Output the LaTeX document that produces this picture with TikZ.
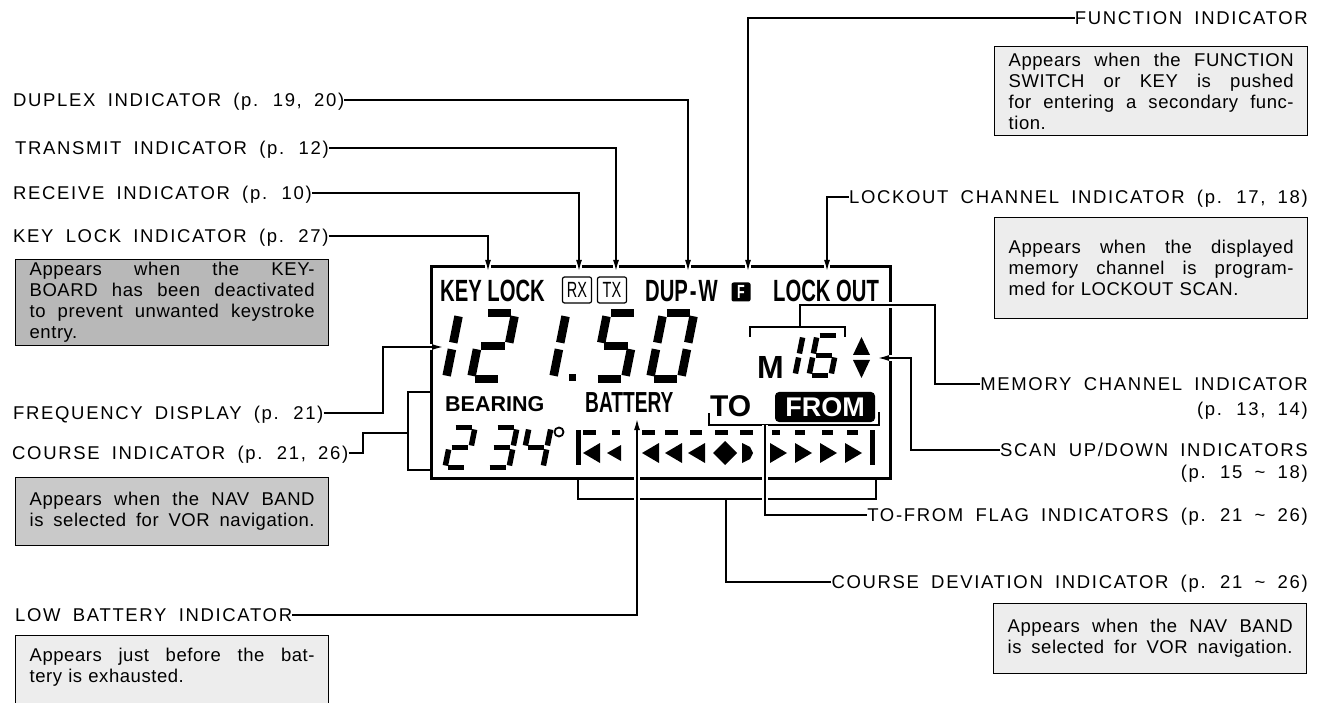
\documentclass[tikz,border=0pt]{standalone}
\usepackage{fontspec}
\setmainfont{Liberation Sans}
\newfontfamily\lblfont{Liberation Sans}[LetterSpace=9,WordSpace=1.8]
\newfontfamily\boxfont{Liberation Sans}[LetterSpace=3]
\newfontfamily\lcdfont{Liberation Sans}[FakeStretch=0.66]
\usetikzlibrary{arrows.meta,positioning}
\definecolor{boxdark}{gray}{0.72}
\definecolor{boxmid}{gray}{0.79}
\definecolor{boxlight}{gray}{0.93}

% seven segment pieces, unit cell 1 x 2
\tikzset{
  sa/.style={insert path={(0.12,2)--(0.88,2)}},
  sb/.style={insert path={(1,1.9)--(1,1.1)}},
  sc/.style={insert path={(1,0.9)--(1,0.1)}},
  sd/.style={insert path={(0.12,0)--(0.88,0)}},
  se/.style={insert path={(0,0.9)--(0,0.1)}},
  sf/.style={insert path={(0,1.9)--(0,1.1)}},
  sg/.style={insert path={(0.12,1)--(0.88,1)}}
}
% x, y (baseline), width, half height, thickness, segments
\newcommand{\lcddigit}[6]{%
  \begin{scope}[shift={(#1,#2)},x=#3pt,y=#4pt,xslant=0.2,line width=#5pt]
    \foreach \sg in {#6}{\edef\segcmd{\noexpand\draw[s\sg];}\segcmd}
  \end{scope}}
% one justified line of a note
\newcommand{\jline}[1]{\makebox[\hsize][s]{\spaceskip=0pt\relax#1}}

\begin{document}
\begin{tikzpicture}[x=1pt,y=-1pt,
  lbl/.style={font=\lblfont\fontsize{18.5}{21}\selectfont,inner sep=0pt,text height=13.3pt,text depth=0pt},
  note/.style={draw,line width=1.3pt,text width=285pt,inner xsep=14pt,inner ysep=0pt,align=left,
    font=\boxfont\fontsize{18.5}{21}\selectfont,anchor=north west},
  conn/.style={line width=1.4pt},
  hop/.style={preaction={draw=white,line width=6pt,-}},
  frame/.style={line width=3pt},
  lcd/.style={font=\lcdfont\bfseries\fontsize{30.7}{32}\selectfont,inner sep=0pt,anchor=base west},
  lcdbox/.style={draw,line width=1.2pt,rounded corners=2pt,minimum width=29pt,minimum height=26pt,
    inner sep=0pt,font=\lcdfont\fontsize{22}{22}\selectfont},
  >={Latex[length=11pt,width=6pt]}]
  \useasboundingbox (0,0) rectangle (1318,703);

  % left labels and notes
  \node[lbl,anchor=west] (lbl-dup) at (13,100) {DUPLEX INDICATOR (p. 19, 20)};
  \node[lbl,anchor=west] (lbl-tx) at (15,148) {TRANSMIT INDICATOR (p. 12)};
  \node[lbl,anchor=west] (lbl-rx) at (13,193) {RECEIVE INDICATOR (p. 10)};
  \node[lbl,anchor=west] (lbl-kl) at (13,236) {KEY LOCK INDICATOR (p. 27)};
  \node[note,fill=boxdark,minimum height=86pt] (note-kl) at (15,259)
    {\jline{Appears when the KEY-}\\\jline{BOARD has been deactivated}\\
     \jline{to prevent unwanted keystroke}\\entry.};
  \node[lbl,anchor=west] (lbl-freq) at (13,413) {FREQUENCY DISPLAY (p. 21)};
  \node[lbl,anchor=west] (lbl-course) at (12,453) {COURSE INDICATOR (p. 21, 26)};
  \node[note,fill=boxmid,minimum height=68pt] (note-nav) at (15,477)
    {\jline{Appears when the NAV BAND}\\\jline{is selected for VOR navigation.}};
  \node[lbl,anchor=west] (lbl-lowbat) at (15,615) {LOW BATTERY INDICATOR};
  \node[note,fill=boxlight,minimum height=80pt] (note-bat) at (15,635)
    {\jline{Appears just before the bat-}\\tery is exhausted.\\\mbox{}};

  % right labels and notes
  \node[lbl,anchor=east] (lbl-func) at (1308,18) {FUNCTION INDICATOR};
  \node[note,fill=boxlight,minimum height=89pt] (note-func) at (994,46)
    {\jline{Appears when the FUNCTION}\\\jline{SWITCH or KEY is pushed}\\
     \jline{for entering a secondary func-}\\tion.};
  \node[lbl,anchor=east] (lbl-lockout) at (1308,197) {LOCKOUT CHANNEL INDICATOR (p. 17, 18)};
  \node[note,fill=boxlight,minimum height=101pt] (note-lockout) at (994,217)
    {\jline{Appears when the displayed}\\\jline{memory channel is program-}\\
     med for LOCKOUT SCAN.};
  \node[lbl,anchor=east] (lbl-mem) at (1308,384) {MEMORY CHANNEL INDICATOR};
  \node[lbl,anchor=east] (lbl-mem-p) at (1308,409) {(p. 13, 14)};
  \node[lbl,anchor=east] (lbl-scan) at (1308,450) {SCAN UP/DOWN INDICATORS};
  \node[lbl,anchor=east] (lbl-scan-p) at (1308,472) {(p. 15 \textasciitilde\ 18)};
  \node[lbl,anchor=east] (lbl-tofrom) at (1308,515) {TO-FROM FLAG INDICATORS (p. 21 \textasciitilde\ 26)};
  \node[lbl,anchor=east] (lbl-cdi) at (1308,582) {COURSE DEVIATION INDICATOR (p. 21 \textasciitilde\ 26)};
  \node[note,fill=boxlight,minimum height=70pt] (note-cdi) at (993,603)
    {\jline{Appears when the NAV BAND}\\\jline{is selected for VOR navigation.}};

  % display frame
  \draw[frame] (431,267) rectangle (890,478);
  \coordinate (kl-in) at (488,271);
  \coordinate (rx-in) at (579,271);
  \coordinate (tx-in) at (616,271);
  \coordinate (dup-in) at (688,271);
  \coordinate (f-in) at (748,271);
  \coordinate (lo-in) at (827,271);
  \coordinate (freq-in) at (443,347);
  \coordinate (scan-in) at (878,358);
  \coordinate (bat-in) at (637,419);

  % connectors
  \draw[conn,hop,->] (lbl-dup.east) -| (dup-in);
  \draw[conn,hop,->] (lbl-tx.east) -| (tx-in);
  \draw[conn,hop,->] (lbl-rx.east) -| (rx-in);
  \draw[conn,hop,->] (lbl-kl.east) -| (kl-in);
  \draw[conn,hop,->] (lbl-func.west) -| (f-in);
  \draw[conn,hop,->] (lbl-lockout.west) -| (lo-in);
  \draw[conn,hop,->] (lbl-freq.east) -- (383,413) |- (freq-in);
  \draw[conn] (lbl-course.east) -- (363,453) |- (408,433);
  \draw[conn] (431,392) -| (408,470) -- (431,470);
  \draw[conn,hop] (lbl-mem.west) -- (935,384) |- (800,305) -- (800,327);
  \draw[conn] (750,337) |- (845,327) -- (845,337);
  \draw[conn,hop,->] (lbl-scan.west) -- (911,450) |- (scan-in);
  \draw[conn] (709,413) |- (879,425) -- (879,412);
  \draw[conn] (578,480) |- (876,499) -- (876,480);
  \draw[conn,hop] (765,425) |- (lbl-tofrom.west);
  \draw[conn] (726,499) |- (lbl-cdi.west);
  \draw[conn,hop,->] (lbl-lowbat.east) -| (bat-in);

  % display contents
  \node[lcd] (kl-txt) at (440,302) {KEY LOCK};
  \node[lcdbox] (rx-txt) at (577,290) {RX};
  \node[lcdbox] (tx-txt) at (612,290) {TX};
  \node[lcd] (dup-txt) at (645,302) {DUP\kern2pt-\kern2pt W};
  \node[fill,rounded corners=2pt,minimum size=19pt,inner sep=0pt,text=white,
    font=\lcdfont\bfseries\fontsize{19}{19}\selectfont] (f-txt) at (741,292) {F};
  \node[lcd] (lo-txt) at (773,302) {LOCK OUT};

  \lcddigit{415}{379}{31}{33}{8.5}{b,c}
  \lcddigit{471}{379}{31}{33}{8.5}{a,b,g,e,d}
  \lcddigit{522}{379}{31}{33}{8.5}{b,c}
  \fill (569,374) rectangle (576,381);
  \lcddigit{594}{379}{31}{33}{8.5}{a,f,g,c,d}
  \lcddigit{650}{379}{31}{33}{8.5}{a,b,c,d,e,f}

  \node[anchor=base west,inner sep=0pt,font=\bfseries\fontsize{32}{32}\selectfont] (m-txt) at (757,378) {M};
  \lcddigit{773}{375.5}{22}{20}{5.5}{b,c}
  \lcddigit{809}{375.5}{22}{20}{5.5}{a,f,g,e,d,c}
  \fill (853,355) -- (861.5,337) -- (870,355) -- cycle;
  \fill (853,360) -- (870,360) -- (861.5,378) -- cycle;

  \node[anchor=base west,inner sep=0pt,font=\bfseries\fontsize{21.5}{22}\selectfont] (bear-txt) at (445,412) {BEARING};
  \node[lcd,font=\lcdfont\bfseries\fontsize{29}{30}\selectfont] (bat-txt) at (585,413) {BATTERY};
  \node[anchor=base west,inner sep=0pt,font=\bfseries\fontsize{30}{30}\selectfont] (to-txt) at (710,417) {TO};
  \node[fill,rounded corners=4pt,minimum width=100pt,minimum height=30pt,inner sep=0pt,text=white,
    font=\bfseries\fontsize{27}{27}\selectfont] (from-txt) at (825,407) {FROM};

  \lcddigit{445}{467.5}{22}{20}{5.5}{a,b,g,e,d}
  \lcddigit{487}{467.5}{22}{20}{5.5}{a,b,g,c,d}
  \lcddigit{521}{467.5}{22}{20}{5.5}{f,g,b,c}
  \draw[line width=1.8pt] (559,432) circle (4.5);

  % course deviation scale
  \fill (576,430) rectangle (581,465);
  \fill (870,430) rectangle (875,465);
  \foreach \x in {583,642,665,688} {\fill (\x,453) -- ++(17,-10) -- ++(0,20) -- cycle;}
  \fill (607,453) -- ++(14,-8) -- ++(0,16) -- cycle;
  \fill (725,441) -- (737,453) -- (725,465) -- (713,453) -- cycle;
  \fill (742,443) -- (750,447) -- (753,453) -- (750,459) -- (742,463) -- cycle;
  \foreach \x in {770,795,820,845} {\fill (\x,443) -- ++(17,10) -- ++(-17,10) -- cycle;}
  \foreach \a/\b in {583/596,612/620,642/655,665/678,690/702,715/728,740/753,772/780,795/805,822/833,847/858}
    {\fill (\a,430) rectangle (\b,435);}
\end{tikzpicture}
\end{document}
